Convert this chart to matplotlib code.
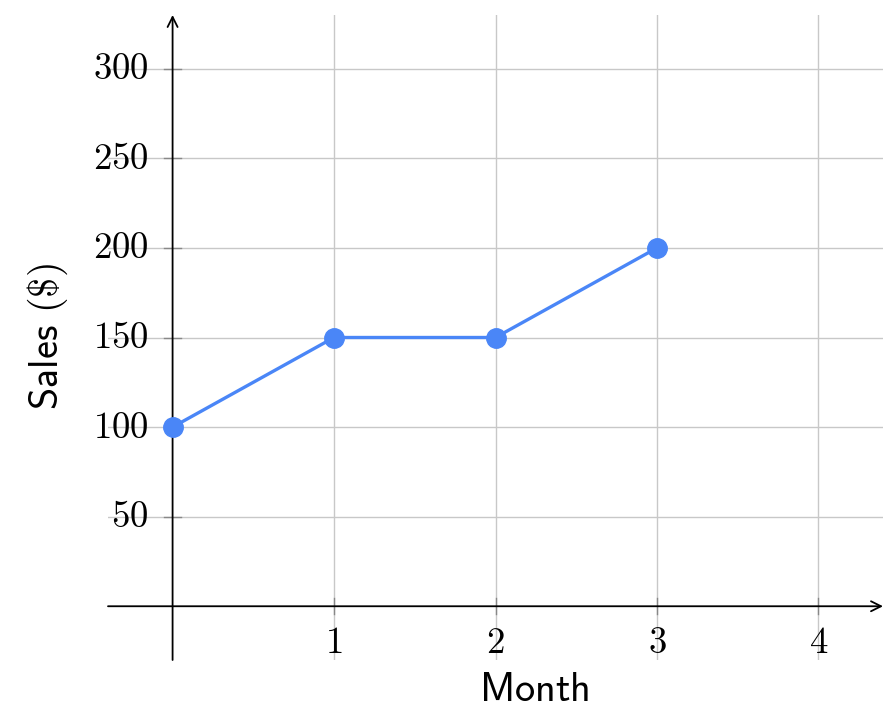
import matplotlib
matplotlib.use("Agg")
import matplotlib.pyplot as plt

# data
months = [0, 1, 2, 3]
sales = [100, 150, 150, 200]
x_ticks = [1, 2, 3, 4]
y_ticks = [50, 100, 150, 200, 250, 300]

plt.rcParams["mathtext.fontset"] = "cm"

fig = plt.figure(figsize=(8.96, 7.2), dpi=100)
ax = fig.add_axes([108 / 896, 1 - 660 / 720, 775 / 896, 645 / 720])
ax.set_xlim(-0.4, 4.4)
ax.set_ylim(-30, 330)

for s in ax.spines.values():
    s.set_visible(False)

# grid
for x in x_ticks:
    ax.axvline(x, color="#c8c8c8", lw=1.0, zorder=1)
for y in y_ticks:
    ax.axhline(y, color="#c8c8c8", lw=1.0, zorder=1)

# axis lines with arrows
ax.annotate("", xy=(4.4, 0), xytext=(-0.4, 0),
            arrowprops=dict(arrowstyle="->", lw=1.3, color="black",
                            shrinkA=0, shrinkB=0, mutation_scale=18), zorder=3)
ax.annotate("", xy=(0, 330), xytext=(0, -30),
            arrowprops=dict(arrowstyle="->", lw=1.3, color="black",
                            shrinkA=0, shrinkB=0, mutation_scale=18), zorder=3)

# tick marks crossing the axes
ax.set_xticks([])
ax.set_yticks([])
for x in x_ticks:
    ax.plot([x, x], [-4.5, 4.5], color="#888888", lw=1.0, zorder=2)
    ax.text(x, -10, rf"${x}$", ha="center", va="top", fontsize=26.5)
for y in y_ticks:
    ax.plot([-0.055, 0.055], [y, y], color="#888888", lw=1.0, zorder=2)
    ax.text(-0.15, y, rf"${y}$", ha="right", va="center", fontsize=26.5)

ax.plot(months, sales, color="#4a86f7", lw=2.4, marker="o", ms=14,
        zorder=4, clip_on=False)

fig.text(534 / 896, 1 - 690 / 720, r"$\mathsf{Month}$", ha="center", va="center",
         fontsize=29)
fig.text(48 / 896, 1 - 337 / 720, r"$\mathsf{Sales}$ $\mathsf{(\$)}$", ha="center",
         va="center", rotation=90, fontsize=29)

fig.savefig("out.png", dpi=100)
